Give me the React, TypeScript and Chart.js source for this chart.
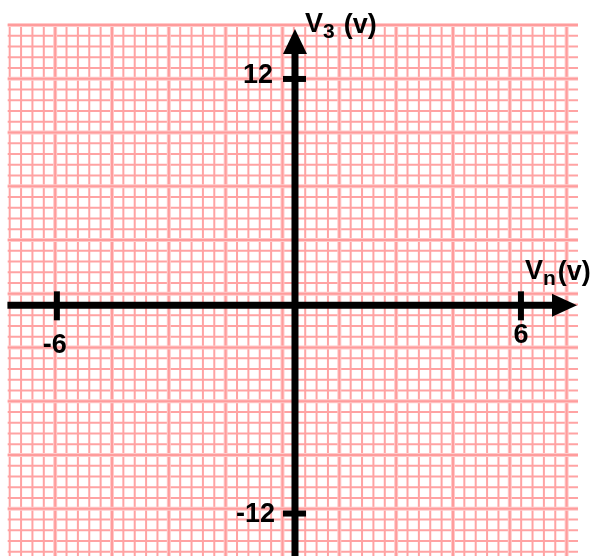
import { useEffect, useRef } from 'react';
import { Chart, registerables } from 'chart.js';

Chart.register(...registerables);

// Graph-paper coordinate system (units = small grid cells)
const gridCols = 50; // cells across
const gridRows = 49.4; // cells down (bottom is cut by the page)
const xAxisRow = 26.08; // horizontal axis (V_n) row
const yAxisCol = 25.1; // vertical axis (V_3) column
const xAxisStart = -0.2;
const xAxisEnd = 47.8;
const yAxisStart = 49.4;
const yAxisEnd = 2.6;

// Tick positions (in cells) and their labels
const xTickCells = [4.15, 44.98];
const xTickLabels = ['-6', '6'];
const yTickCells = [5.02, 45.45];
const yTickLabels = ['12', '-12'];

// Axis titles
const yTitleMain = 'V';
const yTitleSub = '3';
const yTitleUnit = '(v)';
const xTitleMain = 'V';
const xTitleSub = 'n';
const xTitleUnit = '(v)';

const FONT = '"Liberation Sans", Arial, sans-serif';

const paperPlugin = {
  id: 'paper',
  beforeDatasetsDraw(chart: any) {
    const { ctx, chartArea, scales } = chart;
    const x = scales.x;
    const y = scales.y;
    const top = y.getPixelForValue(0);
    const bottom = chartArea.bottom;
    const left = x.getPixelForValue(0);
    const right = x.getPixelForValue(gridCols);
    ctx.save();
    const drawV = (i: number, w: number, c: string) => {
      const px = x.getPixelForValue(i);
      ctx.beginPath();
      ctx.strokeStyle = c;
      ctx.lineWidth = w;
      ctx.moveTo(px, top - 1);
      ctx.lineTo(px, bottom);
      ctx.stroke();
    };
    const drawH = (j: number, w: number, c: string) => {
      const py = y.getPixelForValue(j);
      ctx.beginPath();
      ctx.strokeStyle = c;
      ctx.lineWidth = w;
      ctx.moveTo(left - 2, py);
      ctx.lineTo(right, py);
      ctx.stroke();
    };
    // minor lines
    for (let i = 0; i < gridCols; i++) if (i % 5 !== 4) drawV(i, 2, '#ffa3a3');
    for (let j = 0; j <= Math.floor(gridRows); j++) if (j % 5 !== 0) drawH(j, 2, '#ffa3a3');
    // major lines
    for (let i = 0; i < gridCols; i++) if (i % 5 === 4) { drawV(i, 4, '#ffcaca'); drawV(i, 2, '#ff9c9c'); }
    for (let j = 0; j <= Math.floor(gridRows); j++) if (j % 5 === 0) { drawH(j, 4, '#ffcaca'); drawH(j, 2, '#ff9c9c'); }
    ctx.restore();
  },
  afterDatasetsDraw(chart: any) {
    const { ctx, scales } = chart;
    const x = scales.x;
    const y = scales.y;
    const ax = x.getPixelForValue(yAxisCol);
    const ay = y.getPixelForValue(xAxisRow);
    ctx.save();
    ctx.fillStyle = '#000';
    ctx.strokeStyle = '#000';
    // arrowheads
    const xb = x.getPixelForValue(xAxisEnd);
    ctx.beginPath();
    ctx.moveTo(xb - 1, ay - 11.5);
    ctx.lineTo(xb + 24, ay);
    ctx.lineTo(xb - 1, ay + 11.5);
    ctx.closePath();
    ctx.fill();
    const yb = y.getPixelForValue(yAxisEnd);
    ctx.beginPath();
    ctx.moveTo(ax - 12, yb + 1);
    ctx.lineTo(ax, yb - 24);
    ctx.lineTo(ax + 12, yb + 1);
    ctx.closePath();
    ctx.fill();
    // ticks
    ctx.lineWidth = 6;
    xTickCells.forEach((v) => {
      const px = x.getPixelForValue(v);
      ctx.beginPath();
      ctx.moveTo(px, ay - 14);
      ctx.lineTo(px, ay + 15);
      ctx.stroke();
    });
    yTickCells.forEach((v) => {
      const py = y.getPixelForValue(v);
      ctx.beginPath();
      ctx.moveTo(ax - 12, py);
      ctx.lineTo(ax + 11, py);
      ctx.stroke();
    });
    // tick labels
    ctx.font = `bold 27px ${FONT}`;
    ctx.textBaseline = 'alphabetic';
    const xLabelDy = [48, 38];
    const xLabelDx = [-2, 0];
    ctx.textAlign = 'center';
    xTickCells.forEach((v, i) => {
      const px = x.getPixelForValue(v);
      ctx.fillText(xTickLabels[i], px + xLabelDx[i], ay + xLabelDy[i]);
    });
    const yLabelDy = [4, 8.5];
    const yLabelDx = [-22, -20];
    ctx.textAlign = 'right';
    yTickCells.forEach((v, i) => {
      const py = y.getPixelForValue(v);
      ctx.fillText(yTickLabels[i], ax + yLabelDx[i], py + yLabelDy[i]);
    });
    // axis titles
    ctx.textAlign = 'left';
    const drawTitle = (main: string, sub: string, unit: string, lx: number, base: number, gap: number) => {
      ctx.font = `bold 27px ${FONT}`;
      ctx.fillText(main, lx, base);
      let cx = lx + ctx.measureText(main).width;
      ctx.font = `bold 21px ${FONT}`;
      ctx.fillText(sub, cx, base + 6);
      cx += ctx.measureText(sub).width + gap;
      ctx.font = `bold 27px ${FONT}`;
      ctx.fillText(unit, cx, base + 1);
    };
    drawTitle(yTitleMain, yTitleSub, yTitleUnit, ax + 10, 32, 9);
    drawTitle(xTitleMain, xTitleSub, xTitleUnit, x.getPixelForValue(xAxisEnd) - 28, 279, 2);
    ctx.restore();
  },
};

export default function App() {
  const ref = useRef<HTMLCanvasElement | null>(null);
  useEffect(() => {
    if (!ref.current) return;
    const chart = new Chart(ref.current, {
      type: 'scatter',
      data: {
        datasets: [
          {
            label: 'Vn axis',
            data: [
              { x: xAxisStart, y: xAxisRow },
              { x: xAxisEnd, y: xAxisRow },
            ],
            showLine: true,
            borderColor: '#000',
            borderWidth: 7,
            borderCapStyle: 'butt',
            pointRadius: 0,
            clip: false,
          } as any,
          {
            label: 'V3 axis',
            data: [
              { x: yAxisCol, y: yAxisStart },
              { x: yAxisCol, y: yAxisEnd },
            ],
            showLine: true,
            borderColor: '#000',
            borderWidth: 7,
            borderCapStyle: 'butt',
            pointRadius: 0,
            clip: false,
          } as any,
        ],
      },
      options: {
        responsive: false,
        animation: false,
        events: [],
        layout: { padding: { left: 9.7, right: 19, top: 25, bottom: 0 } },
        plugins: { legend: { display: false }, tooltip: { enabled: false }, title: { display: false } },
        scales: {
          x: { type: 'linear', min: 0, max: gridCols, display: false },
          y: { type: 'linear', min: 0, max: gridRows, reverse: true, display: false },
        },
      },
      plugins: [paperPlugin],
    });
    return () => chart.destroy();
  }, []);
  return (
    <div style={{ position: 'fixed', left: 0, top: 0, width: 597, height: 556, background: '#fff' }}>
      <canvas ref={ref} width={597} height={556} style={{ width: 597, height: 556, display: 'block' }} />
    </div>
  );
}
